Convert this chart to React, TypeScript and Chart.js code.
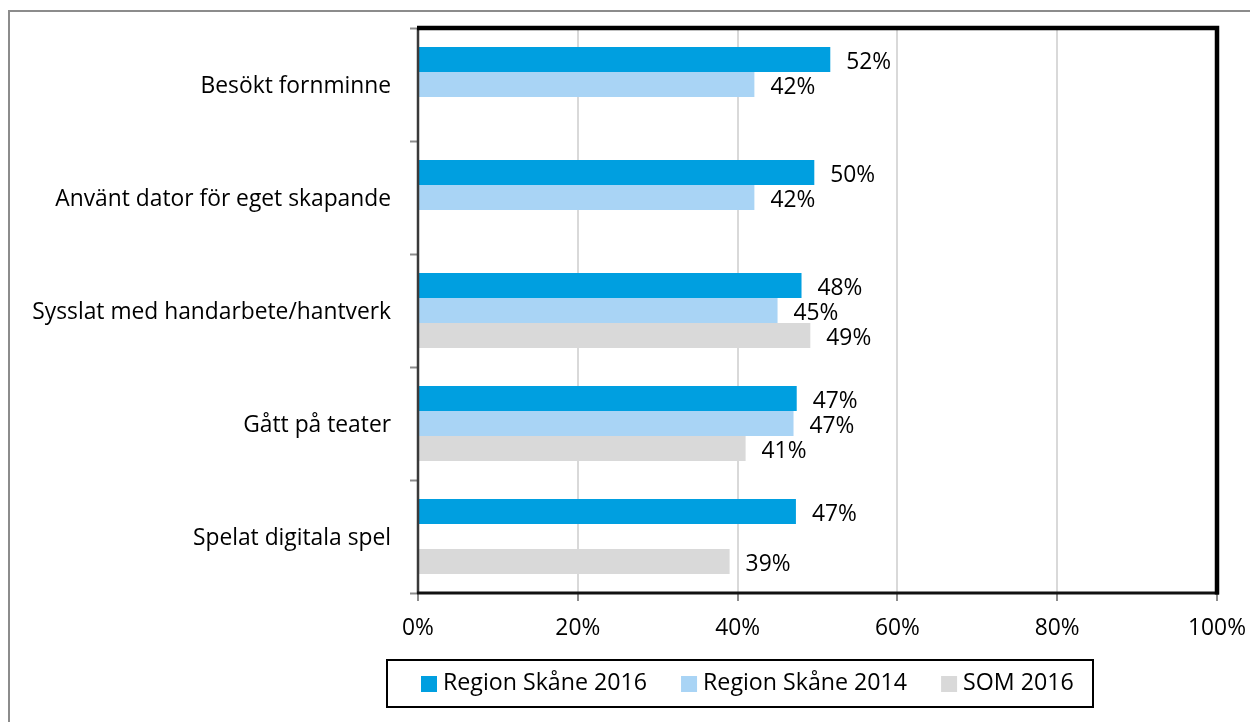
import React, { useEffect, useRef } from "react";
import { Chart, registerables } from "chart.js";

Chart.register(...registerables);

const categories = [
  "Besökt fornminne",
  "Använt dator för eget skapande",
  "Sysslat med handarbete/hantverk",
  "Gått på teater",
  "Spelat digitala spel",
];
const seriesNames = ["Region Skåne 2016", "Region Skåne 2014", "SOM 2016"];
const region2016 = [51.6, 49.6, 48.0, 47.4, 47.3];
const region2014 = [42.1, 42.1, 45.0, 47.0, null];
const som2016 = [null, null, 49.1, 41.0, 39.0];
const seriesColors = ["#009fe0", "#a9d4f5", "#d9d9d9"];
const xTicks = [0, 20, 40, 60, 80, 100];

const FONT = "'Open Sans', sans-serif";
const FS = 22.8;

const framePlugin = {
  id: "frame",
  beforeDraw(chart: any) {
    const ctx = chart.ctx;
    ctx.save();
    ctx.fillStyle = "#ffffff";
    ctx.fillRect(0, 0, chart.width, chart.height);
    ctx.strokeStyle = "#8c8c8c";
    ctx.lineWidth = 2;
    ctx.beginPath();
    ctx.moveTo(9, chart.height + 2);
    ctx.lineTo(9, 11);
    ctx.lineTo(chart.width + 2, 11);
    ctx.stroke();
    ctx.restore();
  },
  afterDatasetsDraw(chart: any) {
    const { ctx, chartArea: a } = chart;
    ctx.save();
    ctx.lineCap = "butt";
    // left axis
    ctx.strokeStyle = "#3a3a3a";
    ctx.lineWidth = 2.5;
    ctx.beginPath();
    ctx.moveTo(a.left, a.top);
    ctx.lineTo(a.left, a.bottom + 1);
    ctx.stroke();
    // bottom axis
    ctx.strokeStyle = "#111111";
    ctx.lineWidth = 3;
    ctx.beginPath();
    ctx.moveTo(a.left - 1, a.bottom);
    ctx.lineTo(a.right + 2, a.bottom);
    ctx.stroke();
    // top + right border
    ctx.strokeStyle = "#000000";
    ctx.lineWidth = 4.5;
    ctx.beginPath();
    ctx.moveTo(a.left - 1, a.top);
    ctx.lineTo(a.right, a.top);
    ctx.lineTo(a.right, a.bottom + 1.5);
    ctx.stroke();
    ctx.restore();
  },
};

const valueLabelPlugin = {
  id: "valueLabels",
  afterDatasetsDraw(chart: any) {
    const ctx = chart.ctx;
    ctx.save();
    ctx.font = `${FS}px ${FONT}`;
    ctx.fillStyle = "#000000";
    ctx.textAlign = "left";
    ctx.textBaseline = "middle";
    chart.data.datasets.forEach((ds: any, di: number) => {
      const meta = chart.getDatasetMeta(di);
      meta.data.forEach((el: any, i: number) => {
        const v = ds.data[i];
        if (v === null || v === undefined) return;
        ctx.fillText(`${Math.round(v)}%`, el.x + 16, el.y + 3);
      });
    });
    ctx.restore();
  },
};

const legendPlugin = {
  id: "customLegend",
  afterDraw(chart: any) {
    const ctx = chart.ctx;
    ctx.save();
    ctx.strokeStyle = "#000000";
    ctx.lineWidth = 2;
    ctx.strokeRect(387, 660, 706, 47);
    ctx.font = `${FS + 0.4}px ${FONT}`;
    ctx.textAlign = "left";
    ctx.textBaseline = "middle";
    let x = 421;
    const cy = 683.5;
    chart.data.datasets.forEach((ds: any) => {
      ctx.fillStyle = ds.backgroundColor;
      ctx.fillRect(x, cy - 7.5, 16, 16);
      ctx.fillStyle = "#000000";
      ctx.fillText(ds.label, x + 22, cy);
      x += 22 + ctx.measureText(ds.label).width + 34;
    });
    ctx.restore();
  },
};

export default function App() {
  const ref = useRef<HTMLCanvasElement | null>(null);
  useEffect(() => {
    if (!ref.current) return;
    const values = [region2016, region2014, som2016];
    const chart = new Chart(ref.current, {
      type: "bar",
      data: {
        labels: categories,
        datasets: seriesNames.map((name, i) => ({
          label: name,
          data: values[i] as any,
          backgroundColor: seriesColors[i],
          borderWidth: 0,
          categoryPercentage: 0.664,
          barPercentage: 1,
        })),
      },
      options: {
        indexAxis: "y",
        responsive: false,
        animation: false,
        devicePixelRatio: 1,
        layout: { padding: { top: 28, right: 33, bottom: 0, left: 0 } },
        plugins: {
          legend: { display: false },
          tooltip: { enabled: false },
        },
        scales: {
          x: {
            type: "linear",
            min: 0,
            max: 100,
            afterBuildTicks: (s: any) => {
              s.ticks = xTicks.map((v) => ({ value: v }));
            },
            ticks: {
              callback: (v: any) => `${v}%`,
              font: { family: FONT, size: FS },
              color: "#000000",
              padding: 14,
              maxRotation: 0,
            },
            grid: {
              color: "#d9d9d9",
              lineWidth: 2,
              tickColor: "#8c8c8c",
              tickWidth: 2,
              tickLength: 8,
            },
            border: { display: false },
            afterFit: (s: any) => {
              s.height = 129;
              s.paddingLeft = 0;
              s.paddingRight = 0;
            },
          },
          y: {
            type: "category",
            ticks: {
              font: { family: FONT, size: FS },
              color: "#000000",
              padding: 19,
              labelOffset: 2.5,
            },
            grid: {
              offset: true,
              drawOnChartArea: false,
              tickColor: "#8c8c8c",
              tickWidth: 2,
              tickLength: 8,
            },
            border: { display: false },
            afterFit: (s: any) => {
              s.width = 418;
              s.paddingTop = 0;
              s.paddingBottom = 0;
            },
          },
        },
      } as any,
      plugins: [framePlugin, valueLabelPlugin, legendPlugin],
    });
    return () => chart.destroy();
  }, []);

  return (
    <div style={{ position: "absolute", left: 0, top: 0, width: 1250, height: 722, background: "#fff" }}>
      <canvas ref={ref} width={1250} height={722} style={{ width: 1250, height: 722, display: "block" }} />
    </div>
  );
}
